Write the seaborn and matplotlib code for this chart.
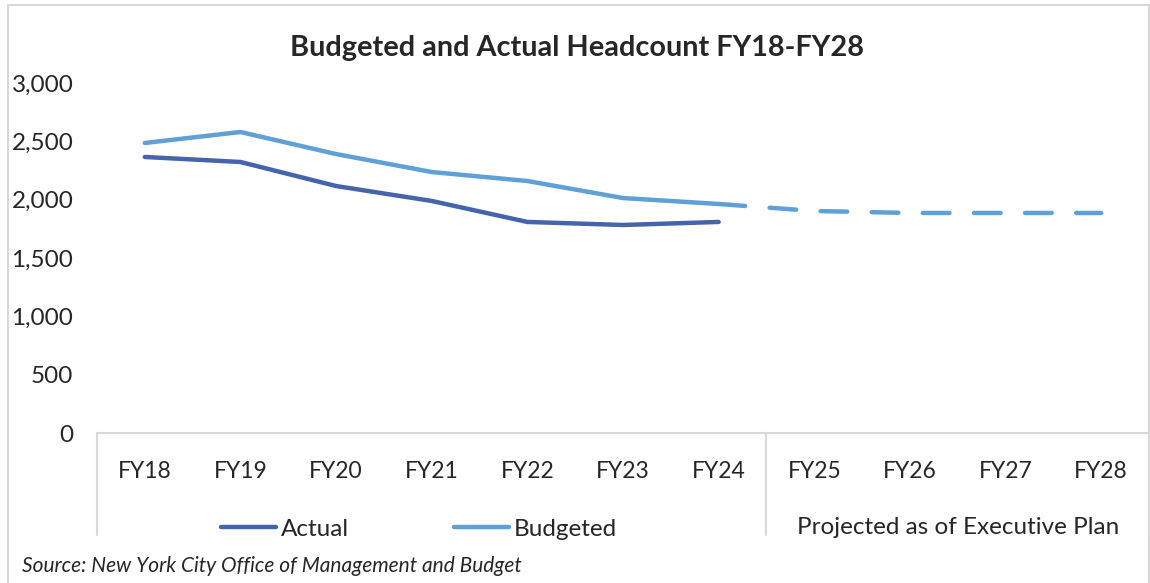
import matplotlib
matplotlib.use("Agg")
import matplotlib.pyplot as plt
import matplotlib.patches as mpatches
import matplotlib.transforms as mtransforms
from matplotlib.ticker import StrMethodFormatter
import pandas as pd
import seaborn as sns

# data
years = ["FY18", "FY19", "FY20", "FY21", "FY22", "FY23", "FY24",
         "FY25", "FY26", "FY27", "FY28"]
actual = [2366, 2323, 2117, 1989, 1809, 1783, 1809]
budgeted = [2486, 2580, 2391, 2237, 2160, 2014, 1963]
projected = [1963, 1903, 1886, 1886, 1886]   # FY24 -> FY28, budget plan
group_label = "Projected as of Executive Plan"

sns.set_style("white")
plt.rcParams["font.family"] = ["Lato", "DejaVu Sans"]

dark_blue = "#4664AC"
light_blue = "#5FA0D6"
grid_grey = "#D9D9D9"

pos = list(range(len(years)))
df_act = pd.DataFrame({"x": pos[:len(actual)], "y": actual})
df_bud = pd.DataFrame({"x": pos[:len(budgeted)], "y": budgeted})
df_proj = pd.DataFrame({"x": pos[len(budgeted) - 1:], "y": projected})

fig = plt.figure(figsize=(11.5, 5.83), dpi=100)
ax = fig.add_axes([97 / 1150, 150 / 583, 1052 / 1150, 350 / 583])

sns.lineplot(data=df_act, x="x", y="y", ax=ax, color=dark_blue, lw=3.2,
             label="Actual", solid_capstyle="round")
sns.lineplot(data=df_bud, x="x", y="y", ax=ax, color=light_blue, lw=3.2,
             label="Budgeted", solid_capstyle="round")
sns.lineplot(data=df_proj, x="x", y="y", ax=ax, color=light_blue, lw=3.2,
             linestyle=(0, (6, 5.5)), dash_capstyle="round", legend=False)

ax.set_xlim(-0.5, len(years) - 0.5)
ax.set_ylim(0, 3000)
ax.set_yticks(range(0, 3001, 500))
ax.yaxis.set_major_formatter(StrMethodFormatter("{x:,.0f}"))
ax.set_xticks(pos)
ax.set_xticklabels(years)
ax.tick_params(axis="x", length=0, pad=20, labelsize=16.5)
ax.tick_params(axis="y", length=0, pad=17, labelsize=17.5)
ax.set_xlabel("")
ax.set_ylabel("")
for s in ["left", "right", "top"]:
    ax.spines[s].set_visible(False)
ax.spines["bottom"].set_color(grid_grey)
ax.spines["bottom"].set_linewidth(1.5)

# category group separators below the axis
trans = mtransforms.blended_transform_factory(ax.transData, ax.transAxes)
for xs in [-0.5, len(budgeted) - 0.5, len(years) - 0.5]:
    ax.plot([xs, xs], [0, -0.291], transform=trans, color=grid_grey,
            lw=1.5, clip_on=False)
ax.text((len(budgeted) + len(years) - 1) / 2, -0.27, group_label,
        transform=trans, ha="center", va="center", fontsize=17.5)

leg = ax.legend(loc="center", bbox_to_anchor=(419 / 1150, 54 / 583),
                bbox_transform=fig.transFigure, ncol=2, frameon=False,
                fontsize=17.5, handlelength=2.26, handletextpad=0.2,
                columnspacing=4.3)

fig.text(0.502, 1 - 48 / 583, "Budgeted and Actual Headcount FY18-FY28",
         ha="center", va="center", fontsize=20.8, fontweight="bold")
fig.text(22 / 1150, 1 - 566 / 583,
         "Source: New York City Office of Management and Budget",
         ha="left", va="center", fontsize=15, style="italic")

# outer chart border
fig.patches.append(mpatches.Rectangle((8 / 1150, -0.05), 1141 / 1150,
                                      1.05 - 5 / 583, transform=fig.transFigure,
                                      fill=False, edgecolor=grid_grey, lw=1.5))

fig.savefig("out.png", dpi=100)
